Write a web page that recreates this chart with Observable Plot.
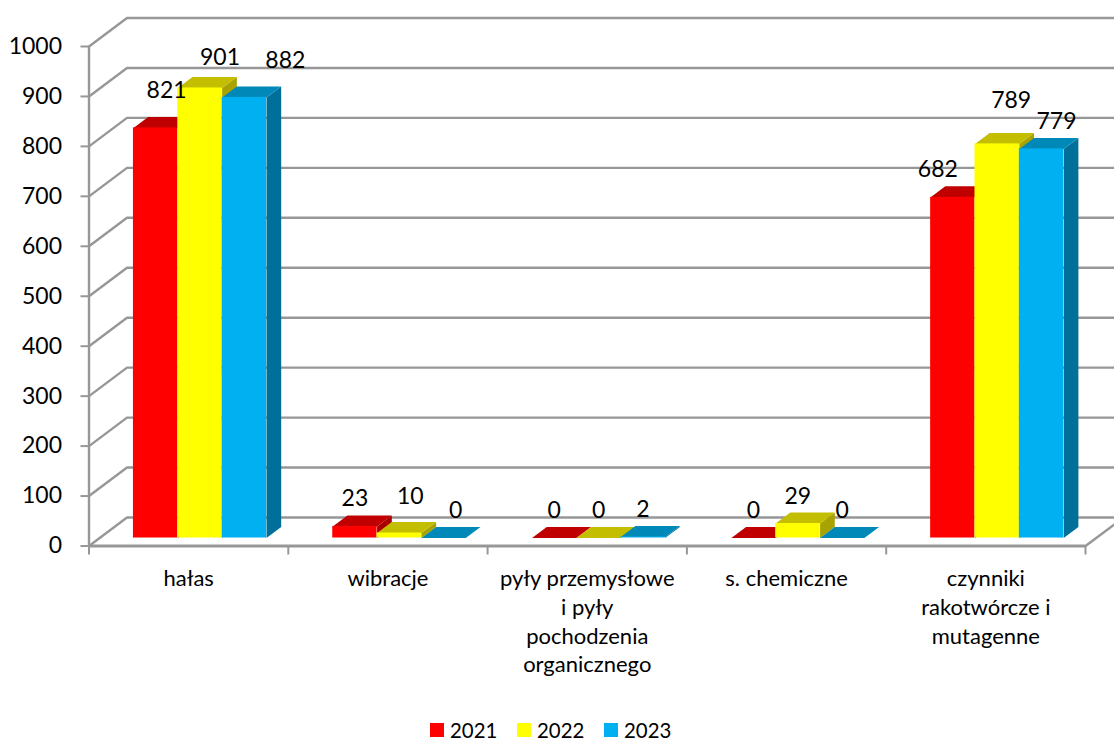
<!DOCTYPE html>
<html lang="pl">
<head>
<meta charset="utf-8">
<script src="https://cdn.jsdelivr.net/npm/d3@7"></script>
<script src="https://cdn.jsdelivr.net/npm/@observablehq/plot@0.6"></script>
<style>
html,body{margin:0;padding:0;background:#fff;overflow:hidden}
svg{display:block}
#legend{display:flex;margin-left:430px;font:20.4px/20px Lato,sans-serif;color:#000}
#legend div{display:flex;align-items:center;width:87px}
#legend i{display:block;width:14px;height:14px;margin-right:6px}
</style>
</head>
<body>
<div id="chart"></div>
<div id="legend"></div>
<script>
const categories = ["hałas", "wibracje", "pyły przemysłowe\ni pyły\npochodzenia\norganicznego", "s. chemiczne", "czynniki\nrakotwórcze i\nmutagenne"];
const years = ["2021", "2022", "2023"];
const values2021 = [821, 23, 0, 0, 682];
const values2022 = [901, 10, 0, 29, 789];
const values2023 = [882, 0, 2, 0, 779];
const frontColors = ["#FF0000", "#FFFF00", "#00B0F0"];
const topColors = ["#C00000", "#C4BE00", "#0089B8"];
const sideColors = ["#A80000", "#A8A300", "#006F9A"];
const yTicks = [0, 100, 200, 300, 400, 500, 600, 700, 800, 900, 1000];

// Oblique projection of the floor, expressed in data units
const catPx = 199.3, valPx = 0.4995;
const wallX = 38 / catPx, wallY = 28.5 / valPx;   // depth of the whole chart box
const depthFront = 0.28, depthBack = 0.667;       // bar depth inside the box
const barW = 44.35 / catPx, barStart = 33.8 / catPx;
const sx = (x, d) => x + d * wallX;
const sy = (v, d) => v + d * wallY;

// label nudges [px right, px up] by series then category (hand placed in the original)
const nudges = [
  [[11, 10], [0, 1], [0, 0], [0, 0], [-15, 1]],
  [[20, 3], [11, 9], [0, 0], [0, 0], [14, 16]],
  [[41, 10], [12, 0], [0, 0], [0, 0], [15, 0]]
];

const series = [values2021, values2022, values2023];
const bars = series.flatMap((vals, s) => vals.map((value, c) => ({
  c, s, value, x0: c + barStart + s * barW, x1: c + barStart + (s + 1) * barW
})));

const faces = bars.flatMap(b => {
  const top = b.value + sy(0, depthFront);
  const pts = (kind, fill, arr) => arr.map(([x, y]) => ({id: `${b.c}-${b.s}-${kind}`, fill, x, y}));
  const dx = (depthBack - depthFront) * wallX, dy = (depthBack - depthFront) * wallY;
  const x0 = sx(b.x0, depthFront), x1 = sx(b.x1, depthFront), base = sy(0, depthFront);
  return [
    ...(b.value > 0 ? pts("side", sideColors[b.s], [[x1, base], [x1 + dx, base + dy], [x1 + dx, top + dy], [x1, top]]) : []),
    ...pts("top", topColors[b.s], [[x0, top], [x0 + dx, top + dy], [x1 + dx, top + dy], [x1, top]])
  ];
});

const fronts = bars.filter(b => b.value > 0).map(b => ({
  x1: sx(b.x0, depthFront), x2: sx(b.x1, depthFront),
  y1: sy(0, depthFront), y2: b.value + sy(0, depthFront), fill: frontColors[b.s]
}));

const labels = bars.map(b => {
  const [nx, ny] = nudges[b.s][b.c];
  return {
    text: String(b.value),
    x: sx((b.x0 + b.x1) / 2, depthFront) + nx / catPx,
    y: b.value + sy(0, depthFront) + ny / valPx
  };
});

const grid = yTicks.flatMap(v => [
  {v, x: 0, y: v}, {v, x: wallX, y: v + wallY}, {v, x: 5 + wallX, y: v + wallY}
]);
const gray = "#979797";
const svgH = 720;

const plot = Plot.plot({
  width: 1114, height: svgH,
  marginLeft: 88.5, marginRight: 29, marginTop: 46, marginBottom: svgH - 545.5,
  x: {type: "linear", domain: [0, 5]},
  y: {type: "linear", domain: [0, 1000]},
  color: {type: "identity"},
  style: {fontFamily: "Lato, sans-serif", fontSize: "23px", color: "#000", background: "#fff"},
  marks: [
    Plot.line(grid, {x: "x", y: "y", z: "v", stroke: gray, strokeWidth: 2.4}),
    Plot.link([0], {x1: () => 5, y1: () => 0, x2: () => 5 + wallX, y2: () => wallY, stroke: gray, strokeWidth: 2.4}),
    Plot.ruleX([0], {y1: 0, y2: 1000, stroke: gray, strokeWidth: 2.4}),
    Plot.ruleY([0], {x1: 0, x2: 5, stroke: gray, strokeWidth: 3}),
    Plot.axisY({ticks: yTicks, tickFormat: "d", tickSize: 8, tickPadding: 19, stroke: gray, strokeWidth: 2, fontSize: 23, fill: "#000", label: null}),
    Plot.axisX({ticks: [0, 1, 2, 3, 4, 5], tickSize: 9, stroke: gray, strokeWidth: 2, tickFormat: () => "", label: null}),
    Plot.line(faces, {x: "x", y: "y", z: "id", fill: "fill", stroke: null}),
    Plot.rect(fronts, {x1: "x1", x2: "x2", y1: "y1", y2: "y2", fill: "fill"}),
    Plot.text(labels, {x: "x", y: "y", text: "text", fontSize: 23, fill: "#000", dy: -27}),
    Plot.text(categories, {x: (d, i) => i + 0.5, y: () => 0, text: d => d, fontSize: 22, lineHeight: 1.3, lineAnchor: "top", dy: 20, fill: "#000"})
  ]
});
document.getElementById("chart").append(plot);

const legend = document.getElementById("legend");
years.forEach((y, i) => {
  const item = document.createElement("div");
  const sw = document.createElement("i");
  sw.style.background = frontColors[i];
  item.append(sw, y);
  legend.append(item);
});
</script>
</body>
</html>
